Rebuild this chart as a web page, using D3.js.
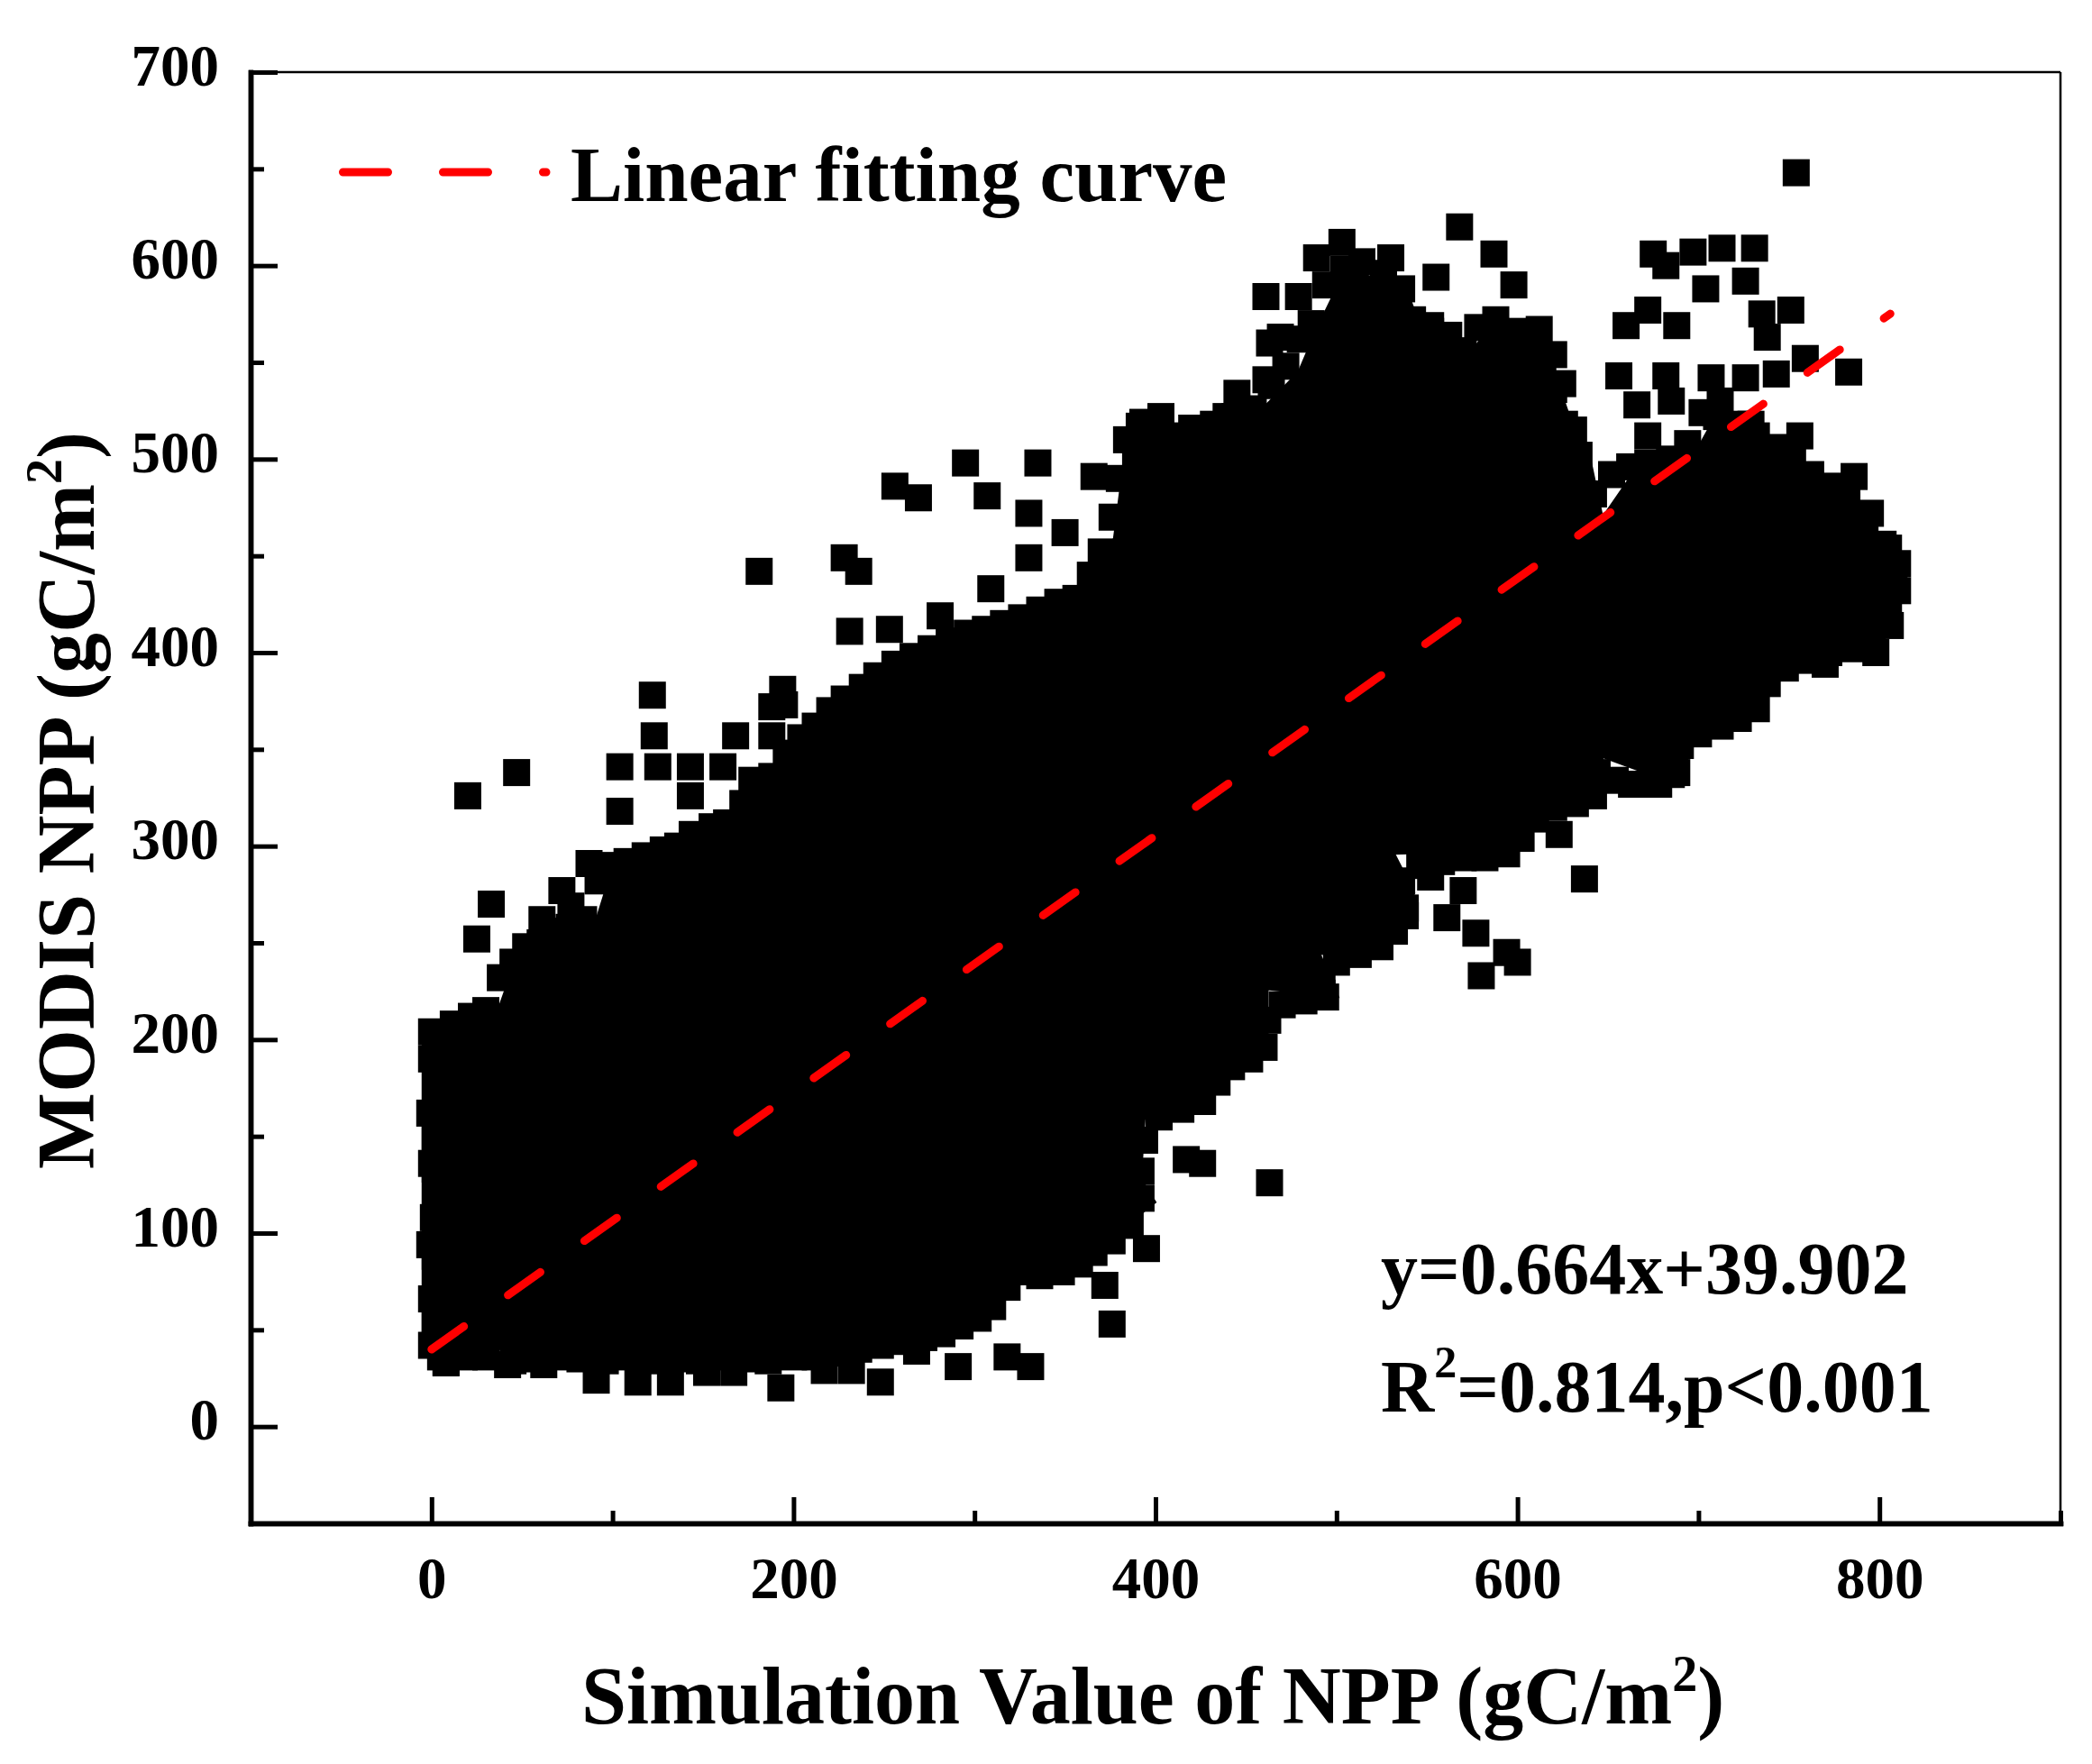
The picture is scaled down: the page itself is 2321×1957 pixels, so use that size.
<!DOCTYPE html>
<html><head><meta charset="utf-8">
<script src="https://cdn.jsdelivr.net/npm/d3@7"></script>
<style>html,body{margin:0;padding:0;background:#fff;} svg{display:block;}</style>
</head><body>
<svg id="chart" width="2321" height="1957"></svg>
<script>
// ---------------- data ----------------
const xMajorTicks = [0, 200, 400, 600, 800];
const xMinorTicks = [100, 300, 500, 700, 900];
const yMajorTicks = [0, 100, 200, 300, 400, 500, 600, 700];
const yMinorTicks = [50, 150, 250, 350, 450, 550, 650];

// dense core of the cloud (where the squares overlap into solid black): upper and lower envelope
const coreUpper = [[-5,192],[2,204],[22,212],[37,216],[45,237],[61,249],[91,262],[100,289],[139,297],[165,309],[187,333],[212,360],[231,374],[250,387],[292,405],[320,413],[358,426],[377,459],[384,510],[431,517],[459,526],[479,545],[489,567],[505,598],[524,593],[539,587],[546,569],[561,565],[574,555],[587,571],[606,565],[618,551],[631,516],[640,501],[647,470],[664,493],[689,498],[701,508],[714,530],[727,515],[749,504],[765,490],[784,481],[796,465],[806,452],[806,423]];
const coreLower = [[-5,44],[12,40],[77,40],[143,40],[203,41],[250,45],[286,50],[300,57],[317,69],[326,85],[355,83],[372,95],[400,116],[392,128],[394,159],[426,172],[439,187],[462,196],[462,226],[501,222],[491,244],[532,250],[543,276],[532,296],[569,297],[604,298],[604,312],[618,324],[647,326],[647,346],[679,335],[694,335],[694,363],[721,366],[740,382],[747,397],[778,404],[800,410],[806,422]];

// individual squares visible around the core
const pointsUpperLeft = [[20,326],[47,338],[33,270],[25,252],[87,291],[72,277],[77,269],[61,262],[122,378],[123,357],[104,341],[125,341],[143,341],[161,341],[104,318],[143,326],[144,306],[168,357],[188,357],[195,373],[188,372],[181,442],[228,449],[236,442],[256,486],[269,480],[295,498],[307,481],[335,498],[330,472],[350,462],[366,491],[391,517],[389,499],[231,411],[253,412],[281,419],[309,433],[330,449],[240,379],[194,381],[177,334]];
const pointsLeftEdge = [[2,198],[5,183],[2,133],[5,112],[2,88],[4,58],[8,33],[0,190],[3,176],[-1,162],[2,150],[0,136],[4,122],[1,108],[-1,94],[3,80],[0,66],[2,52]];
const pointsUpperRight = [[754,648],[461,584],[479,584],[463,560],[469,563],[461,541],[445,534],[439,522],[393,519],[403,522],[503,612],[489,604],[530,604],[568,620],[587,606],[598,590],[555,594],[552,569],[612,567],[620,554],[625,539],[631,515],[557,546],[587,538],[612,526],[675,606],[697,607],[713,609],[731,609],[726,592],[682,600],[704,588],[672,577],[660,569],[688,569],[735,575],[751,577],[738,563],[759,552],[783,545],[656,543],[682,543],[666,528],[685,530],[707,542],[726,542],[743,544],[710,522],[729,518],[756,512],[672,512],[786,491],[795,472],[805,454],[808,439],[805,423],[798,400],[770,394],[732,371],[682,350]];
const pointsLowerRight = [[623,306],[637,283],[552,284],[570,277],[561,263],[577,255],[594,245],[580,233],[600,240],[663,332],[685,337],[492,224],[479,225],[517,250],[538,264],[417,138],[426,136],[463,126],[395,92]];
const pointsBottom = [[8,33],[42,32],[62,32],[91,24],[114,23],[132,23],[152,28],[167,28],[193,20],[217,29],[232,29],[248,23],[268,39],[291,31],[318,36],[331,31],[376,53],[372,73]];
const pointsUpperEdge = [[0,204],[12,208],[22,212],[30,215],[38,232],[45,240],[52,248],[60,250],[68,256],[76,258],[84,262],[92,282],[98,290],[108,292],[118,295],[128,298],[136,300],[146,304],[155,310],[163,312],[172,322],[180,330],[188,336],[196,348],[204,356],[212,362],[220,370],[228,376],[238,382],[246,388],[256,394],[266,398],[276,402],[286,406],[296,410],[306,412],[316,415],[326,418],[336,422],[346,426],[356,428],[364,440],[370,452],[376,470],[380,490],[384,510],[396,515],[408,512],[420,516],[432,518],[444,522],[454,526],[464,538],[472,548],[480,562],[486,570],[494,590],[504,598],[514,602],[526,596],[536,588],[542,572],[552,566],[562,564],[570,556],[578,568],[588,572],[598,566],[608,562],[614,550],[620,536],[626,518],[634,502],[642,482],[652,492],[662,496],[672,498],[684,500],[694,508],[702,524],[712,530],[720,518],[732,512],[742,506],[752,500],[762,492],[772,486],[782,482],[792,468],[802,456],[810,446],[810,432]];
const pointsLowerEdge = [[0,42],[5,36],[18,36],[30,36],[45,34],[58,35],[70,36],[82,35],[96,34],[108,36],[120,34],[134,35],[148,34],[160,36],[174,35],[186,34],[200,36],[212,36],[224,38],[236,40],[248,42],[260,44],[272,46],[282,48],[292,52],[302,56],[310,62],[318,72],[324,80],[336,78],[348,80],[358,84],[366,90],[376,96],[386,104],[392,118],[392,132],[394,148],[402,160],[414,164],[426,168],[434,178],[442,186],[452,190],[460,196],[462,210],[470,218],[482,220],[494,222],[492,232],[500,240],[512,244],[524,248],[532,256],[538,268],[536,282],[546,290],[558,292],[570,294],[582,294],[594,296],[602,304],[610,314],[620,320],[632,322],[642,326],[644,338],[654,334],[666,332],[678,332],[688,338],[690,352],[700,358],[712,362],[722,366],[730,374],[738,384],[748,392],[760,396],[772,400],[784,402],[796,406],[806,414]];

// fitted line endpoints (y = 0.664x + 39.902)
const fitLine = [[0, 39.902], [806, 575.1]];

const legendLabel = "Linear fitting curve";
const eqLine1 = "y=0.664x+39.902";
const eqLine2a = "R", eqLine2sup = "2", eqLine2b = "=0.814,p<0.001";
const xTitle = "Simulation Value of NPP (gC/m", xTitleSup = "2", xTitleEnd = ")";
const yTitle = "MODIS NPP (gC/m", yTitleSup = "2", yTitleEnd = ")";

// ---------------- drawing ----------------
const FONT = "'Liberation Serif','Times New Roman',serif";
const svg = d3.select("#chart");
const x = d3.scaleLinear().domain([-100, 900]).range([278, 2286]);
const y = d3.scaleLinear().domain([-50, 700]).range([1690, 80]);

const plot = svg.append("g");

// dense core
const corePoly = coreUpper.concat(coreLower.slice().reverse());
plot.append("path")
  .attr("d", d3.line().x(d => x(d[0])).y(d => y(d[1]))(corePoly) + "Z")
  .attr("fill", "#000").attr("stroke", "#000").attr("stroke-width", 2);

// squares
const allPoints = [].concat(pointsUpperLeft, pointsLeftEdge, pointsUpperRight, pointsLowerRight,
  pointsBottom, pointsUpperEdge, pointsLowerEdge);
plot.selectAll("path.pt").data(allPoints).join("path")
  .attr("class", "pt")
  .attr("d", d3.symbol(d3.symbolSquare, 900))
  .attr("transform", d => `translate(${x(d[0])},${y(d[1])})`)
  .attr("fill", "#000");

// fitted line
plot.append("path")
  .attr("d", d3.line().x(d => x(d[0])).y(d => y(d[1]))(fitLine))
  .attr("fill", "none").attr("stroke", "#ff0000").attr("stroke-width", 9)
  .attr("stroke-dasharray", "44,60").attr("stroke-linecap", "round");

// frame (top/right thin)
svg.append("line").attr("x1", x(-100)).attr("x2", x(900)).attr("y1", y(700)).attr("y2", y(700))
  .attr("stroke", "#000").attr("stroke-width", 2.5);
svg.append("line").attr("x1", x(900)).attr("x2", x(900)).attr("y1", y(700)).attr("y2", y(-50))
  .attr("stroke", "#000").attr("stroke-width", 2.5);

// axes
function styleAxis(g, w) {
  g.select(".domain").attr("stroke-width", 5.5).attr("stroke-linecap", "square");
  g.selectAll(".tick line").attr("stroke-width", w);
}
const gxMinor = svg.append("g").attr("transform", `translate(0,${y(-50)})`)
  .call(d3.axisBottom(x).tickValues(xMinorTicks).tickSizeInner(-14).tickSizeOuter(0).tickFormat(""));
styleAxis(gxMinor, 5);
const gx = svg.append("g").attr("transform", `translate(0,${y(-50)})`)
  .call(d3.axisBottom(x).tickValues(xMajorTicks).tickSizeInner(-29).tickSizeOuter(0).tickFormat(d3.format("d")));
styleAxis(gx, 5);
gx.selectAll(".tick text").attr("y", 83).attr("dy", 0)
  .attr("font-family", FONT).attr("font-weight", "bold").attr("font-size", 65).attr("fill", "#000");

const gyMinor = svg.append("g").attr("transform", `translate(${x(-100)},0)`)
  .call(d3.axisLeft(y).tickValues(yMinorTicks).tickSizeInner(-15).tickSizeOuter(0).tickFormat(""));
styleAxis(gyMinor, 5);
const gy = svg.append("g").attr("transform", `translate(${x(-100)},0)`)
  .call(d3.axisLeft(y).tickValues(yMajorTicks).tickSizeInner(-30).tickSizeOuter(0).tickFormat(d3.format("d")));
styleAxis(gy, 5);
gy.selectAll(".tick text").attr("x", -35).attr("y", 14).attr("dy", 0)
  .attr("font-family", FONT).attr("font-weight", "bold").attr("font-size", 65).attr("fill", "#000");

// axis titles
const xt = svg.append("text").attr("x", 645).attr("y", 1912)
  .attr("font-family", FONT).attr("font-weight", "bold").attr("font-size", 90).attr("fill", "#000");
xt.append("tspan").text(xTitle);
xt.append("tspan").attr("font-size", 56).attr("dy", -36).text(xTitleSup);
xt.append("tspan").attr("dy", 36).text(xTitleEnd);

const yt = svg.append("text").attr("transform", "translate(104,1297) rotate(-90)")
  .attr("font-family", FONT).attr("font-weight", "bold").attr("font-size", 90).attr("fill", "#000");
yt.append("tspan").text(yTitle);
yt.append("tspan").attr("font-size", 56).attr("dy", -36).text(yTitleSup);
yt.append("tspan").attr("dy", 36).text(yTitleEnd);

// legend
svg.append("line").attr("x1", 380.5).attr("x2", 606).attr("y1", 191).attr("y2", 191)
  .attr("stroke", "#ff0000").attr("stroke-width", 9).attr("stroke-dasharray", "50,61").attr("stroke-linecap", "round");
svg.append("text").attr("x", 633).attr("y", 223).text(legendLabel)
  .attr("font-family", FONT).attr("font-weight", "bold").attr("font-size", 87).attr("fill", "#000");

// equation annotation
svg.append("text").attr("x", 1532).attr("y", 1435).text(eqLine1)
  .attr("font-family", FONT).attr("font-weight", "bold").attr("font-size", 82).attr("fill", "#000");
const r2 = svg.append("text").attr("x", 1532).attr("y", 1566)
  .attr("font-family", FONT).attr("font-weight", "bold").attr("font-size", 82).attr("fill", "#000");
r2.append("tspan").text(eqLine2a);
r2.append("tspan").attr("font-size", 50).attr("dy", -38).text(eqLine2sup);
r2.append("tspan").attr("dy", 38).text(eqLine2b);
</script>
</body></html>
